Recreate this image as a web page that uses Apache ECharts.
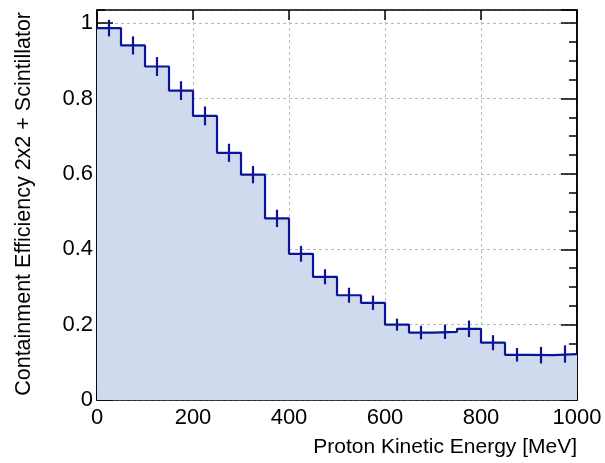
<!DOCTYPE html>
<html>
<head>
<meta charset="utf-8">
<script src="https://cdn.jsdelivr.net/npm/echarts@6/dist/echarts.min.js"></script>
<style>
  html, body { margin: 0; padding: 0; background: #ffffff; }
  #chart { width: 605px; height: 463px; }
</style>
</head>
<body>
<div id="chart"></div>
<script>
// Histogram: containment efficiency per 50 MeV bin of proton kinetic energy
const binLowEdges = [0, 50, 100, 150, 200, 250, 300, 350, 400, 450,
                     500, 550, 600, 650, 700, 750, 800, 850, 900, 950];
const binWidth = 50;
const efficiency = [0.987, 0.941, 0.885, 0.821, 0.754, 0.656, 0.598, 0.482, 0.388, 0.327,
                    0.278, 0.258, 0.200, 0.179, 0.181, 0.189, 0.152, 0.120, 0.119, 0.122];
const efficiencyErr = [0.022, 0.024, 0.025, 0.025, 0.025, 0.024, 0.023, 0.023, 0.021, 0.020,
                       0.020, 0.019, 0.016, 0.018, 0.019, 0.022, 0.020, 0.018, 0.022, 0.023];
const xTickLabels = ['0', '200', '400', '600', '800', '1000'];
const yTickLabels = ['0', '0.2', '0.4', '0.6', '0.8', '1'];

const xMin = 0, xMax = 1000, yMin = 0, yMax = 1.035;
const lineColor = '#0a1496';
const fillColor = '#cfdaee';
const fontFamily = '"Liberation Sans", Arial, Helvetica, sans-serif';

// Step outline points at bin lower edges, closed at the upper edge of the last bin
const stepPoints = binLowEdges.map((x, i) => [x, efficiency[i]]);
stepPoints.push([binLowEdges[binLowEdges.length - 1] + binWidth, efficiency[efficiency.length - 1]]);

// Error bar data at bin centres
const errData = binLowEdges.map((x, i) => [x + binWidth / 2, efficiency[i], efficiencyErr[i]]);

const chart = echarts.init(document.getElementById('chart'), null, { renderer: 'canvas' });

const frameLine = { show: true, onZero: false, lineStyle: { color: '#000', width: 1.5 } };

function yAxisDef(opts) {
  return Object.assign({
    type: 'value', min: yMin, max: yMax, position: 'left',
    axisLine: frameLine,
    axisTick: { show: true, inside: true, length: 8, lineStyle: { color: '#000', width: 1.5 } },
    axisLabel: { show: false },
    splitLine: { show: false }
  }, opts);
}

function xAxisDef(opts) {
  return Object.assign({
    type: 'value', min: xMin, max: xMax, interval: 200, position: 'bottom',
    axisLine: frameLine,
    axisTick: { show: true, inside: true, length: 10, lineStyle: { color: '#000', width: 1.5 } },
    axisLabel: { show: false },
    splitLine: { show: false }
  }, opts);
}

chart.setOption({
  animation: false,
  backgroundColor: '#ffffff',
  grid: { left: 97, right: 28, top: 10, bottom: 63, containLabel: false },
  xAxis: [
    xAxisDef({
      axisLabel: {
        show: true, margin: 7, color: '#000', fontSize: 22, fontFamily: fontFamily,
        formatter: v => xTickLabels[Math.round(v / 200)] ?? ''
      },
      splitLine: { show: true, lineStyle: { color: '#b8b8b8', type: [3, 3], width: 1 } }
    }),
    xAxisDef({ position: 'top' })
  ],
  yAxis: [
    // minor ticks, left
    yAxisDef({ interval: 0.05 }),
    // major ticks with labels and grid, left
    yAxisDef({
      interval: 0.2,
      axisTick: { show: true, inside: true, length: 16, lineStyle: { color: '#000', width: 1.5 } },
      axisLabel: {
        show: true, margin: 4, color: '#000', fontSize: 22, fontFamily: fontFamily,
        showMaxLabel: false,
        formatter: v => {
          const k = Math.round(v / 0.2);
          return Math.abs(v - k * 0.2) < 1e-6 ? (yTickLabels[k] ?? '') : '';
        }
      },
      splitLine: { show: true, lineStyle: { color: '#b8b8b8', type: [3, 3], width: 1 } }
    }),
    // minor ticks, right
    yAxisDef({ position: 'right', interval: 0.05 }),
    // major ticks, right
    yAxisDef({
      position: 'right', interval: 0.2,
      axisTick: { show: true, inside: true, length: 16, lineStyle: { color: '#000', width: 1.5 } }
    })
  ],
  series: [
    {
      type: 'line',
      xAxisIndex: 0, yAxisIndex: 1,
      data: stepPoints,
      step: 'end',
      symbol: 'none',
      lineStyle: { color: lineColor, width: 2.2 },
      areaStyle: { color: fillColor, opacity: 1, origin: 'start' },
      z: 2
    },
    {
      type: 'custom',
      xAxisIndex: 0, yAxisIndex: 1,
      data: errData,
      renderItem: (params, api) => {
        const x = api.value(0), y = api.value(1), e = api.value(2);
        const top = api.coord([x, y + e]);
        const bot = api.coord([x, y - e]);
        return {
          type: 'line',
          shape: { x1: top[0], y1: top[1], x2: bot[0], y2: bot[1] },
          style: { stroke: lineColor, lineWidth: 2.2 }
        };
      },
      z: 3
    }
  ],
  graphic: [
    {
      type: 'text',
      right: 28, top: 437,
      style: {
        text: 'Proton Kinetic Energy [MeV]',
        fill: '#000', fontSize: 21, fontFamily: fontFamily
      }
    },
    {
      type: 'text',
      x: 13, y: 12,
      rotation: Math.PI / 2,
      style: {
        text: 'Containment Efficiency 2x2 + Scintillator',
        fill: '#000', fontSize: 21.5, fontFamily: fontFamily,
        align: 'right', verticalAlign: 'top'
      }
    }
  ]
});
</script>
</body>
</html>
